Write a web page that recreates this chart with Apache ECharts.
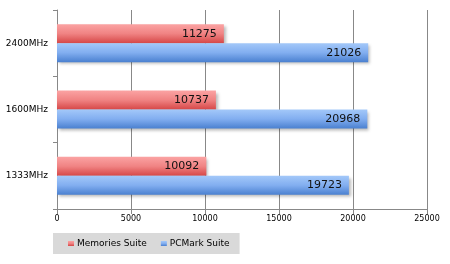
<!DOCTYPE html>
<html><head><meta charset="utf-8">
<script src="https://cdn.jsdelivr.net/npm/echarts@6/dist/echarts.min.js"></script>
<style>html,body{margin:0;padding:0;background:#fff}#c{width:450px;height:264px}</style>
</head><body><div id="c"></div>
<script>
const categories = ['1333MHz', '1600MHz', '2400MHz'];
const memoriesSuite = [10092, 10737, 11275];
const pcmarkSuite = [19723, 20968, 21026];
const seriesNames = ['Memories Suite', 'PCMark Suite'];
const xTicks = { min: 0, max: 25000, interval: 5000 };

const chart = echarts.init(document.getElementById('c'), null, { renderer: 'canvas' });
const font = 'DejaVu Sans, Verdana, sans-serif';
function grad(top, mid, bottom) {
  return new echarts.graphic.LinearGradient(0, 0, 0, 1, [
    { offset: 0, color: top }, { offset: 0.5, color: mid }, { offset: 1, color: bottom }
  ]);
}
const labelCfg = { show: true, position: 'insideRight', distance: 7, color: '#111', fontSize: 11, fontFamily: font };
const shadow = { shadowColor: 'rgba(0,0,0,0.28)', shadowBlur: 3, shadowOffsetX: 2, shadowOffsetY: 2 };
chart.setOption({
  animation: false,
  backgroundColor: '#fff',
  grid: { left: 57, top: 10, width: 370, height: 199 },
  legend: {
    left: 53, top: 233,
    backgroundColor: '#d9d9d9',
    padding: [6, 10, 6, 15],
    itemWidth: 6, itemHeight: 5, itemGap: 14,
    icon: 'rect',
    textStyle: { fontSize: 9, fontFamily: font, color: '#000', padding: [0, 0, 0, -2] },
    data: seriesNames
  },
  xAxis: {
    type: 'value', min: xTicks.min, max: xTicks.max, interval: xTicks.interval,
    axisLine: { show: true, lineStyle: { color: '#888' } },
    axisTick: { show: true, length: 5, lineStyle: { color: '#888' } },
    splitLine: { show: true, lineStyle: { color: '#888', width: 1 } },
    axisLabel: { fontSize: 8, fontFamily: font, color: '#000', margin: 6, formatter: v => String(v) }
  },
  yAxis: {
    type: 'category', data: categories,
    axisLine: { show: true, lineStyle: { color: '#888' } },
    axisTick: { show: true, length: 4, lineStyle: { color: '#888' } },
    axisLabel: { fontSize: 9, fontFamily: font, color: '#000', margin: 9 }
  },
  series: [
    { name: seriesNames[0], type: 'bar', data: memoriesSuite, barWidth: 19, barGap: '0%',
      itemStyle: Object.assign({ color: grad('#fba3a3', '#f08383', '#d64747') }, shadow),
      label: labelCfg },
    { name: seriesNames[1], type: 'bar', data: pcmarkSuite, barWidth: 19, barGap: '0%',
      itemStyle: Object.assign({ color: grad('#a3c8f9', '#82aef0', '#4a80d0') }, shadow),
      label: labelCfg }
  ]
});
</script></body></html>
